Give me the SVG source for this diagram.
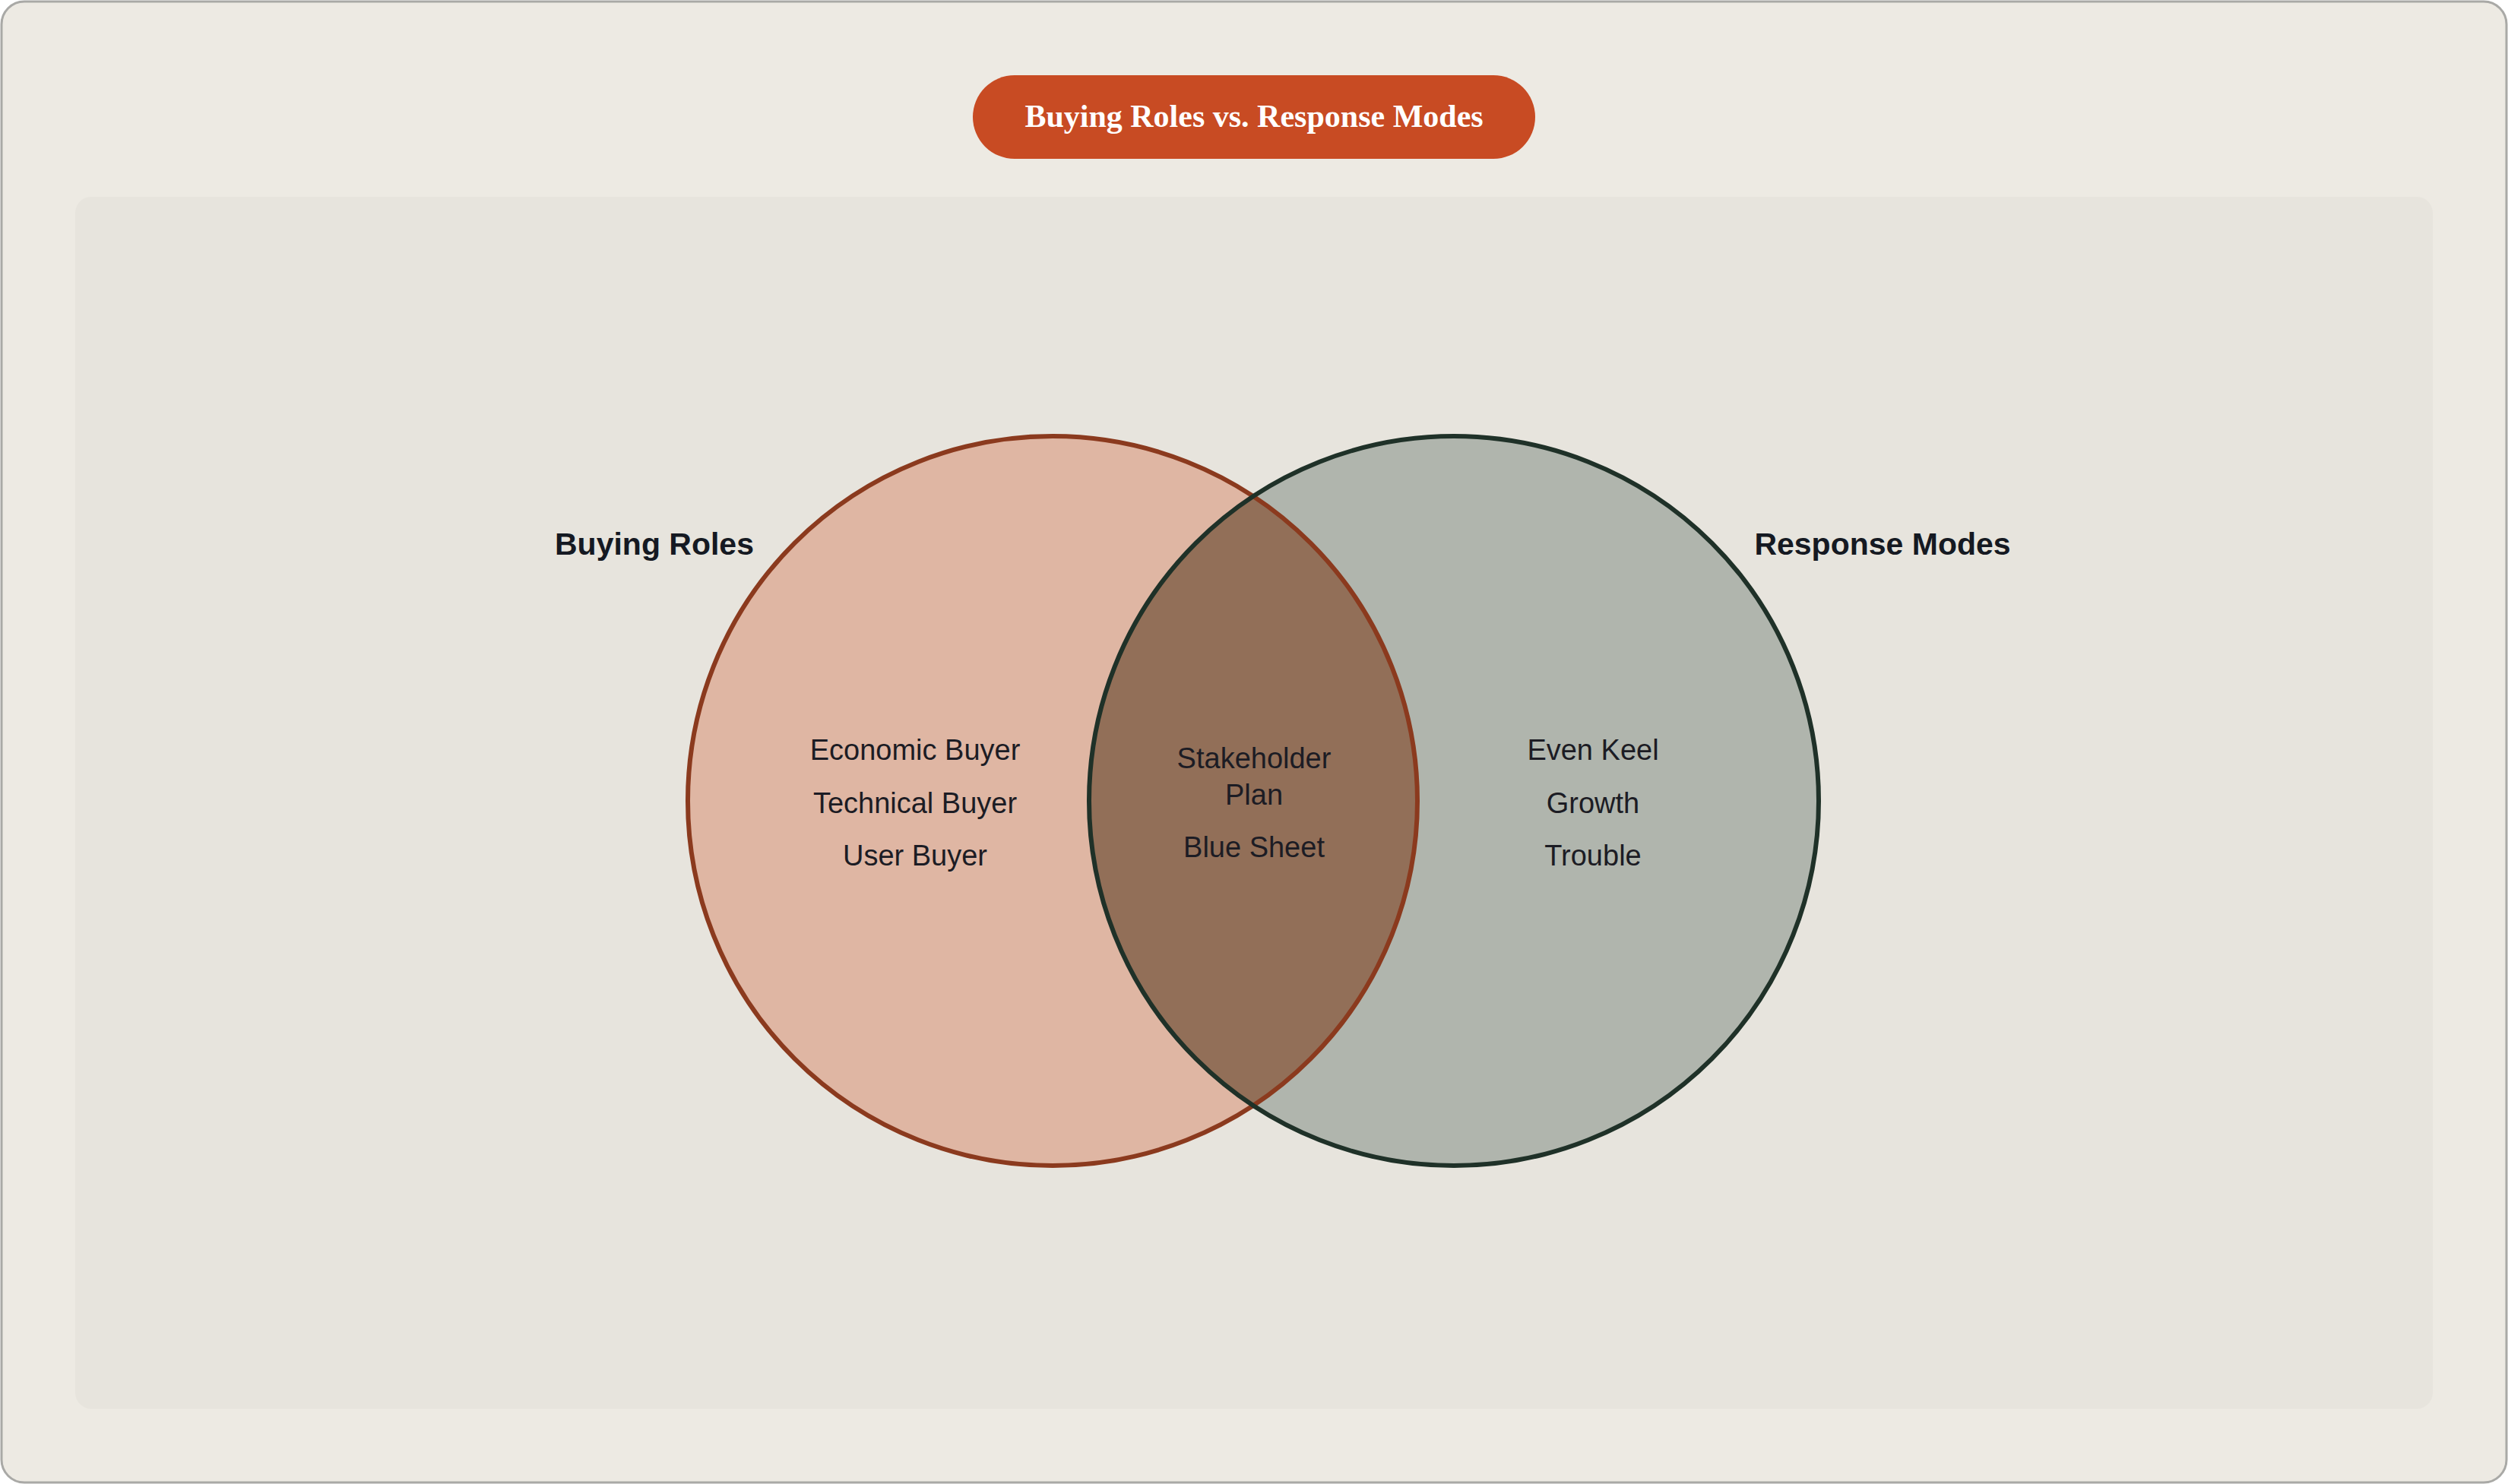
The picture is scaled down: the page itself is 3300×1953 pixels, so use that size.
<svg xmlns="http://www.w3.org/2000/svg" width="3300" height="1953" viewBox="0 0 3300 1953">
<style>
.t{font-family:"Liberation Sans",Arial,sans-serif;font-size:38px;fill:#1c1c24;text-anchor:middle}
.h{font-family:"Liberation Sans",Arial,sans-serif;font-size:41px;font-weight:bold;fill:#151922;text-anchor:middle}
</style>
<rect x="2" y="2" width="3296" height="1949" rx="30" fill="#edeae3" stroke="#a9a9a6" stroke-width="3"/>
<rect x="99" y="259" width="3102" height="1595" rx="21" fill="#e7e4dd"/>
<g id="title">
<rect x="1280" y="99" width="740" height="110" rx="55" fill="#c84b23"/>
<text x="1650" y="167" font-family="'Liberation Serif',serif" font-size="42" font-weight="bold" fill="#ffffff" text-anchor="middle">Buying Roles vs. Response Modes</text>
</g>
<g id="buying-roles">
<circle cx="1385" cy="1054" r="480" fill="#dfb6a3"/>
</g>
<g id="response-modes">
<circle cx="1913" cy="1054" r="480" fill="#b0b5ad"/>
</g>
<g id="overlap">
<path d="M1649 653 A480 480 0 0 1 1649 1455 A480 480 0 0 1 1649 653 Z" fill="#926f58"/>
</g>
<g id="outlines" fill="none" stroke-width="6">
<circle cx="1385" cy="1054" r="480" stroke="#8b3a1e"/>
<circle cx="1913" cy="1054" r="480" stroke="#1f3128"/>
</g>
<g id="labels">
<text class="h" x="861" y="730">Buying Roles</text>
<text class="h" x="2477" y="730">Response Modes</text>
<text class="t" x="1204" y="1000">Economic Buyer</text>
<text class="t" x="1204" y="1070">Technical Buyer</text>
<text class="t" x="1204" y="1139">User Buyer</text>
<text class="t" x="1650" y="1011">Stakeholder</text>
<text class="t" x="1650" y="1059">Plan</text>
<text class="t" x="1650" y="1128">Blue Sheet</text>
<text class="t" x="2096" y="1000">Even Keel</text>
<text class="t" x="2096" y="1070">Growth</text>
<text class="t" x="2096" y="1139">Trouble</text>
</g>
</svg>
